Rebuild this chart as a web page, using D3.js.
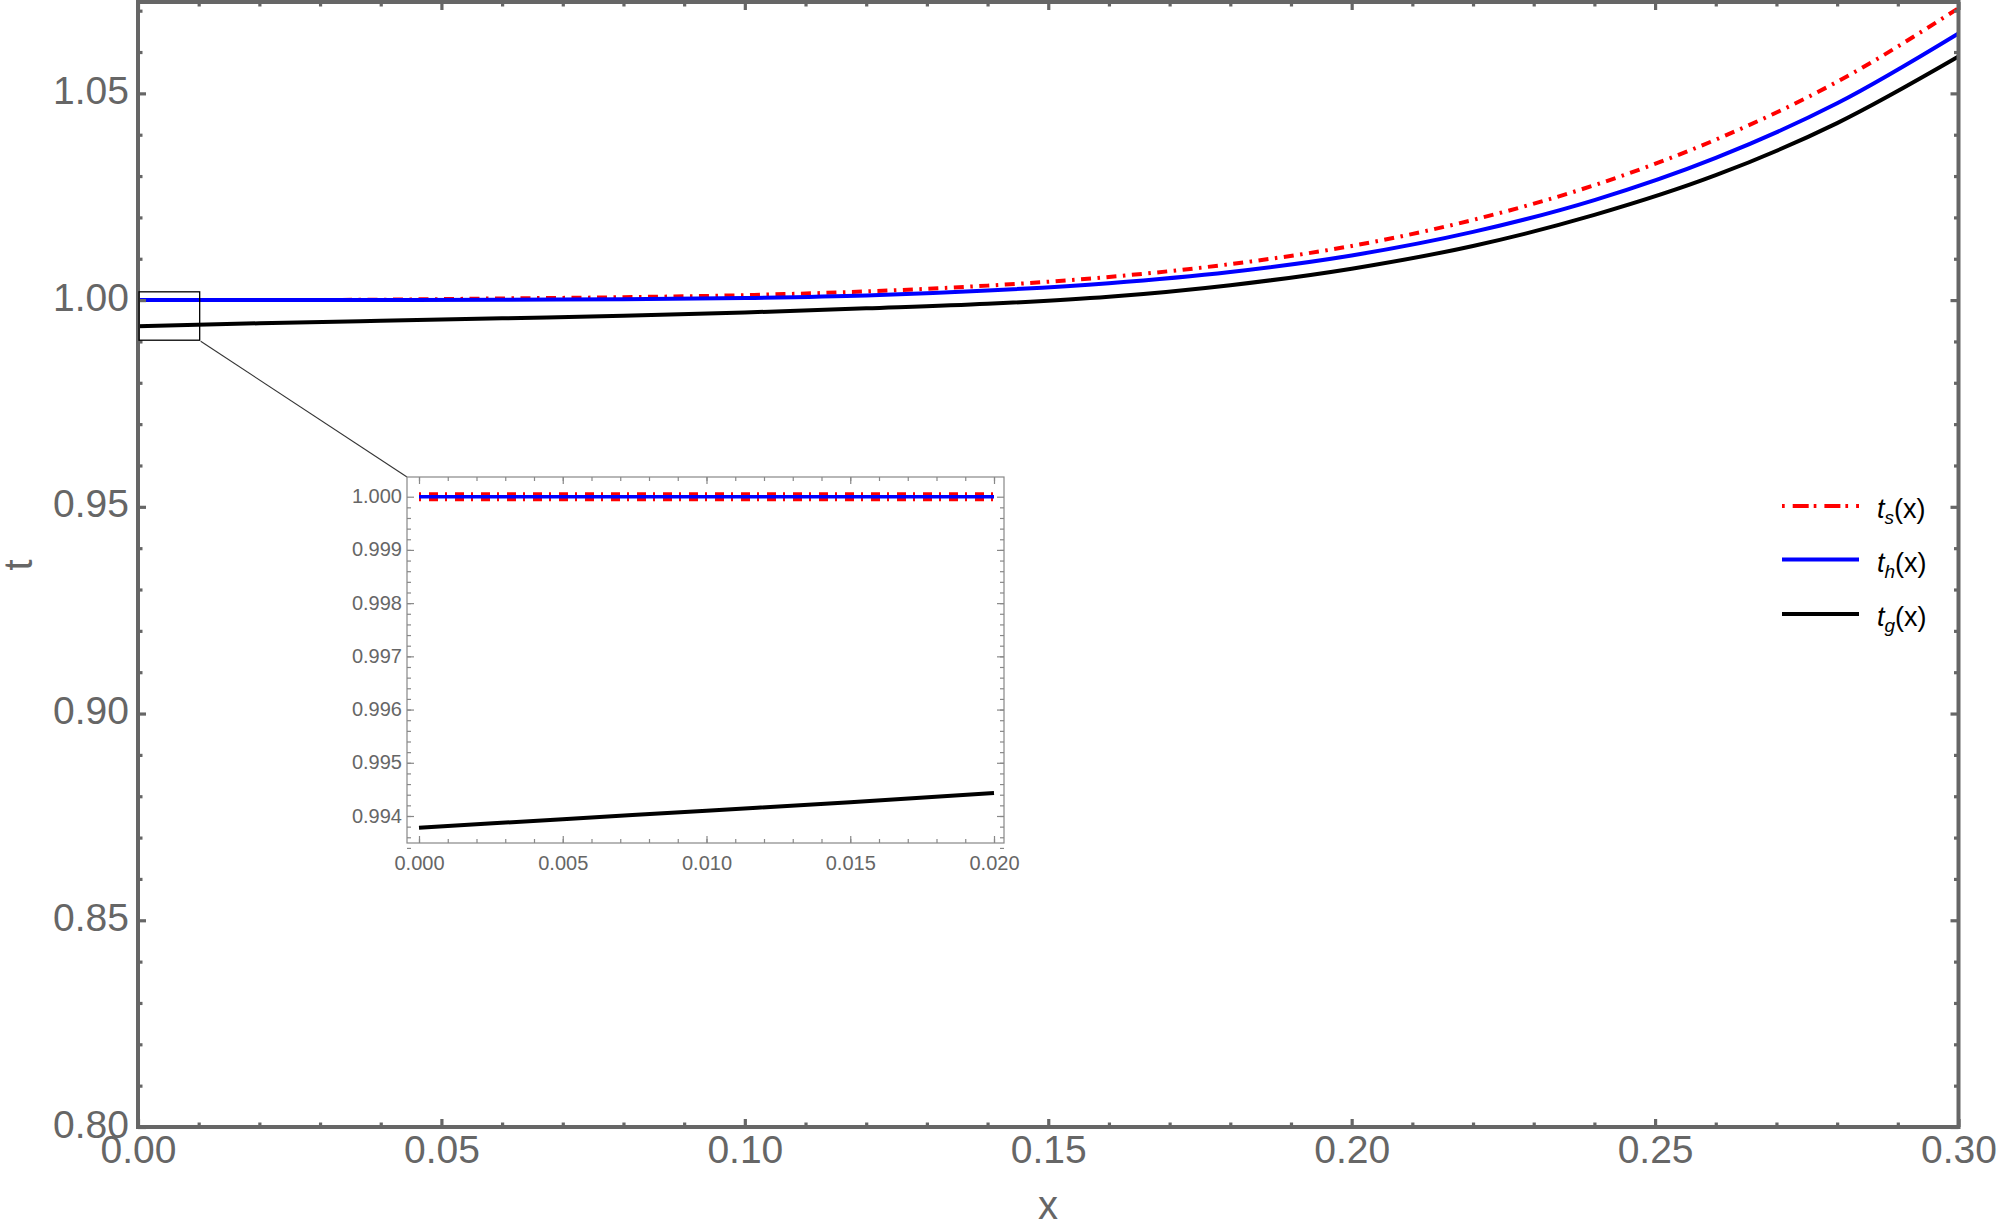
<!DOCTYPE html>
<html><head><meta charset="utf-8">
<script src="https://cdn.jsdelivr.net/npm/d3@7"></script>
<style>
body{margin:0;background:#fff}
svg{display:block}
text{font-family:"Liberation Sans",Arial,Helvetica,sans-serif}
</style>
</head><body>
<svg id="chart" width="2000" height="1232"></svg>
<script>
// ---------- data ----------
const xValues  = [0, 0.02, 0.04, 0.06, 0.08, 0.10, 0.12, 0.14, 0.16, 0.18, 0.20, 0.22, 0.24, 0.26, 0.28, 0.30];
const tsValues = [1.0000, 1.0000, 1.0001, 1.0004, 1.0007, 1.0012, 1.0021, 1.0035, 1.0056, 1.0087, 1.0131, 1.0194, 1.0278, 1.0388, 1.0528, 1.0706];
const thValues = [1.0000, 1.0000, 1.0000, 1.0001, 1.0002, 1.0005, 1.0011, 1.0023, 1.0041, 1.0068, 1.0108, 1.0165, 1.0242, 1.0344, 1.0476, 1.0645];
const tgValues = [0.9937, 0.9944, 0.9950, 0.9956, 0.9962, 0.9970, 0.9980, 0.9991, 1.0008, 1.0036, 1.0076, 1.0131, 1.0206, 1.0302, 1.0428, 1.0589];

const xTicks = [0, 0.05, 0.10, 0.15, 0.20, 0.25, 0.30];
const yTicks = [0.80, 0.85, 0.90, 0.95, 1.00, 1.05];
const xMinorTicks = d3.range(0, 31).map(i => i / 100).filter(v => Math.round(v * 100) % 5 !== 0);
const yMinorTicks = d3.range(80, 108).map(i => i / 100).filter(v => Math.round(v * 100) % 5 !== 0);

const insetX  = [0, 0.005, 0.010, 0.015, 0.020];
const insetTs = [1.0000, 1.0000, 1.0000, 1.0000, 1.0000];
const insetTh = [1.0000, 1.0000, 1.0000, 1.0000, 1.0000];
const insetTg = [0.99378, 0.99394, 0.99410, 0.99426, 0.99443];
const insetXTicks = [0, 0.005, 0.010, 0.015, 0.020];
const insetYTicks = [0.994, 0.995, 0.996, 0.997, 0.998, 0.999, 1.000];
const insetXMinor = d3.range(0, 21).map(i => i / 1000);
const insetYMinor = d3.range(0, 33).map(i => 0.9934 + i * 0.0002);

const zoomBox = {x0: 0, x1: 0.01, y0: 0.9903, y1: 1.0020};

const seriesNames  = ["t_s", "t_h", "t_g"];
const seriesLabels = [["t", "s"], ["t", "h"], ["t", "g"]];

// ---------- setup ----------
const svg = d3.select("#chart");
const W = 2000, H = 1232;
const L = 138, R = 1958.5, T = 2, B = 1127;
const x = d3.scaleLinear().domain([0, 0.30]).range([L, R]);
const y = d3.scaleLinear().domain([0.80, 1.0721]).range([B, T]);
const AX = "#666666";

svg.append("rect").attr("width", W).attr("height", H).attr("fill", "#fff");

svg.append("defs").append("clipPath").attr("id", "plotclip")
  .append("rect").attr("x", L).attr("y", T).attr("width", R - L).attr("height", B - T);

// ---------- curves ----------
const mkLine = (xs, ys, sx, sy) => d3.line().curve(d3.curveMonotoneX)
  .x((d, i) => sx(xs[i])).y(d => sy(d))(ys);

const plot = svg.append("g").attr("clip-path", "url(#plotclip)");
plot.append("path").attr("d", mkLine(xValues, tgValues, x, y))
  .attr("fill", "none").attr("stroke", "#000").attr("stroke-width", 4);
plot.append("path").attr("d", mkLine(xValues, tsValues, x, y))
  .attr("fill", "none").attr("stroke", "#ff0000").attr("stroke-width", 4)
  .attr("stroke-dasharray", "10,6.5,2.5,6.5");
plot.append("path").attr("d", mkLine(xValues, thValues, x, y))
  .attr("fill", "none").attr("stroke", "#0000ff").attr("stroke-width", 4);

// ---------- axes ----------
function styleAxis(g, fs, color, tw) {
  g.select(".domain").remove();
  g.selectAll("line").attr("stroke", color).attr("stroke-width", tw);
  g.selectAll("text").attr("fill", color).style("font-size", fs + "px");
}
const f2 = d3.format(".2f");
// bottom
svg.append("g").attr("transform", `translate(0,${B})`)
  .call(d3.axisBottom(x).tickValues(xTicks).tickSize(-8).tickPadding(8).tickFormat(f2))
  .call(g => styleAxis(g, 39, AX, 3.2));
svg.append("g").attr("transform", `translate(0,${B})`)
  .call(d3.axisBottom(x).tickValues(xMinorTicks).tickSize(-4.5).tickFormat(""))
  .call(g => styleAxis(g, 39, AX, 3.2));
// top
svg.append("g").attr("transform", `translate(0,${T})`)
  .call(d3.axisTop(x).tickValues(xTicks).tickSize(-8).tickFormat(""))
  .call(g => styleAxis(g, 39, AX, 3.2));
svg.append("g").attr("transform", `translate(0,${T})`)
  .call(d3.axisTop(x).tickValues(xMinorTicks).tickSize(-4.5).tickFormat(""))
  .call(g => styleAxis(g, 39, AX, 3.2));
// left
svg.append("g").attr("transform", `translate(${L},0)`)
  .call(d3.axisLeft(y).tickValues(yTicks).tickSize(-8).tickPadding(9).tickFormat(f2))
  .call(g => { styleAxis(g, 39, AX, 3.2); g.selectAll("text").attr("dy", "0.26em"); });
svg.append("g").attr("transform", `translate(${L},0)`)
  .call(d3.axisLeft(y).tickValues(yMinorTicks).tickSize(-4.5).tickFormat(""))
  .call(g => styleAxis(g, 39, AX, 3.2));
// right
svg.append("g").attr("transform", `translate(${R},0)`)
  .call(d3.axisRight(y).tickValues(yTicks).tickSize(-8).tickFormat(""))
  .call(g => styleAxis(g, 39, AX, 3.2));
svg.append("g").attr("transform", `translate(${R},0)`)
  .call(d3.axisRight(y).tickValues(yMinorTicks).tickSize(-4.5).tickFormat(""))
  .call(g => styleAxis(g, 39, AX, 3.2));

// frame
svg.append("rect").attr("x", L).attr("y", T).attr("width", R - L).attr("height", B - T)
  .attr("fill", "none").attr("stroke", AX).attr("stroke-width", 4);

// axis labels
svg.append("text").attr("x", 1048).attr("y", 1219).attr("text-anchor", "middle")
  .attr("fill", AX).style("font-size", "40px").text("x");
svg.append("text").attr("transform", "translate(32,565) rotate(-90)").attr("text-anchor", "middle")
  .attr("fill", AX).style("font-size", "40px").text("t");

// ---------- zoom box & connector ----------
svg.append("rect")
  .attr("x", x(zoomBox.x0) + 1).attr("y", y(zoomBox.y1))
  .attr("width", x(zoomBox.x1) - x(zoomBox.x0)).attr("height", y(zoomBox.y0) - y(zoomBox.y1))
  .attr("fill", "none").attr("stroke", "#000").attr("stroke-width", 1.3);

// ---------- inset ----------
const IL = 407, IR = 1004, IT = 477, IB = 843;
const xi = d3.scaleLinear().domain([0, 0.020]).range([419, 994]);
const yi = d3.scaleLinear().domain([0.994, 1.000]).range([816, 496.7]);

svg.append("line")
  .attr("x1", x(zoomBox.x1) + 2).attr("y1", y(zoomBox.y0) + 1)
  .attr("x2", IL).attr("y2", IT)
  .attr("stroke", "#333").attr("stroke-width", 1.1);

const inset = svg.append("g");
inset.append("rect").attr("x", IL).attr("y", IT).attr("width", IR - IL).attr("height", IB - IT)
  .attr("fill", "#fff");
inset.append("defs").append("clipPath").attr("id", "insetclip")
  .append("rect").attr("x", IL).attr("y", IT).attr("width", IR - IL).attr("height", IB - IT);

const IAX = "#888888", ITX = "#666666";
const f3 = d3.format(".3f");
inset.append("g").attr("transform", `translate(0,${IB})`)
  .call(d3.axisBottom(xi).tickValues(insetXTicks).tickSize(-7).tickPadding(12.5).tickFormat(f3))
  .call(g => styleAxis(g, 20, IAX, 1.2));
inset.append("g").attr("transform", `translate(0,${IB})`)
  .call(d3.axisBottom(xi).tickValues(insetXMinor).tickSize(-4).tickFormat(""))
  .call(g => styleAxis(g, 20, IAX, 1.2));
inset.append("g").attr("transform", `translate(0,${IT})`)
  .call(d3.axisTop(xi).tickValues(insetXTicks).tickSize(-7).tickFormat(""))
  .call(g => styleAxis(g, 20, IAX, 1.2));
inset.append("g").attr("transform", `translate(0,${IT})`)
  .call(d3.axisTop(xi).tickValues(insetXMinor).tickSize(-4).tickFormat(""))
  .call(g => styleAxis(g, 20, IAX, 1.2));
inset.append("g").attr("transform", `translate(${IL},0)`)
  .call(d3.axisLeft(yi).tickValues(insetYTicks).tickSize(-7).tickPadding(5).tickFormat(f3))
  .call(g => { styleAxis(g, 20, IAX, 1.2); g.selectAll("text").attr("dy", "0.3em"); });
inset.append("g").attr("transform", `translate(${IL},0)`)
  .call(d3.axisLeft(yi).tickValues(insetYMinor).tickSize(-4).tickFormat(""))
  .call(g => styleAxis(g, 20, IAX, 1.2));
inset.append("g").attr("transform", `translate(${IR},0)`)
  .call(d3.axisRight(yi).tickValues(insetYTicks).tickSize(-7).tickFormat(""))
  .call(g => styleAxis(g, 20, IAX, 1.2));
inset.append("g").attr("transform", `translate(${IR},0)`)
  .call(d3.axisRight(yi).tickValues(insetYMinor).tickSize(-4).tickFormat(""))
  .call(g => styleAxis(g, 20, IAX, 1.2));
inset.selectAll("text").attr("fill", ITX);

inset.append("rect").attr("x", IL).attr("y", IT).attr("width", IR - IL).attr("height", IB - IT)
  .attr("fill", "none").attr("stroke", IAX).attr("stroke-width", 1.2);

const ip = inset.append("g").attr("clip-path", "url(#insetclip)");
ip.append("path").attr("d", mkLine(insetX, insetTg, xi, yi))
  .attr("fill", "none").attr("stroke", "#000").attr("stroke-width", 4);
ip.append("path").attr("d", mkLine(insetX, insetTs, xi, yi))
  .attr("fill", "none").attr("stroke", "#ff0000").attr("stroke-width", 9)
  .attr("stroke-dasharray", "2,8,9,7");
ip.append("path").attr("d", mkLine(insetX, insetTh, xi, yi))
  .attr("fill", "none").attr("stroke", "#0000ff").attr("stroke-width", 3.5);

// ---------- legend ----------
const legendStyles = [
  {color: "#ff0000", dash: "2.7,8,16,5"},
  {color: "#0000ff", dash: null},
  {color: "#000000", dash: null}
];
const legendY = [506, 559.5, 614];
const legend = svg.append("g");
seriesNames.forEach((name, i) => {
  const st = legendStyles[i];
  const ln = legend.append("line").attr("x1", 1782).attr("x2", 1859)
    .attr("y1", legendY[i]).attr("y2", legendY[i])
    .attr("stroke", st.color).attr("stroke-width", 4);
  if (st.dash) ln.attr("stroke-dasharray", st.dash);
  const t = legend.append("text").attr("x", 1877).attr("y", legendY[i] + 12)
    .attr("fill", "#000").style("font-size", "27px");
  t.append("tspan").style("font-style", "italic").text(seriesLabels[i][0]);
  t.append("tspan").style("font-style", "italic").style("font-size", "19px")
    .attr("dy", 6).text(seriesLabels[i][1]);
  t.append("tspan").attr("dy", -6).text("(x)");
});
</script>
</body></html>
